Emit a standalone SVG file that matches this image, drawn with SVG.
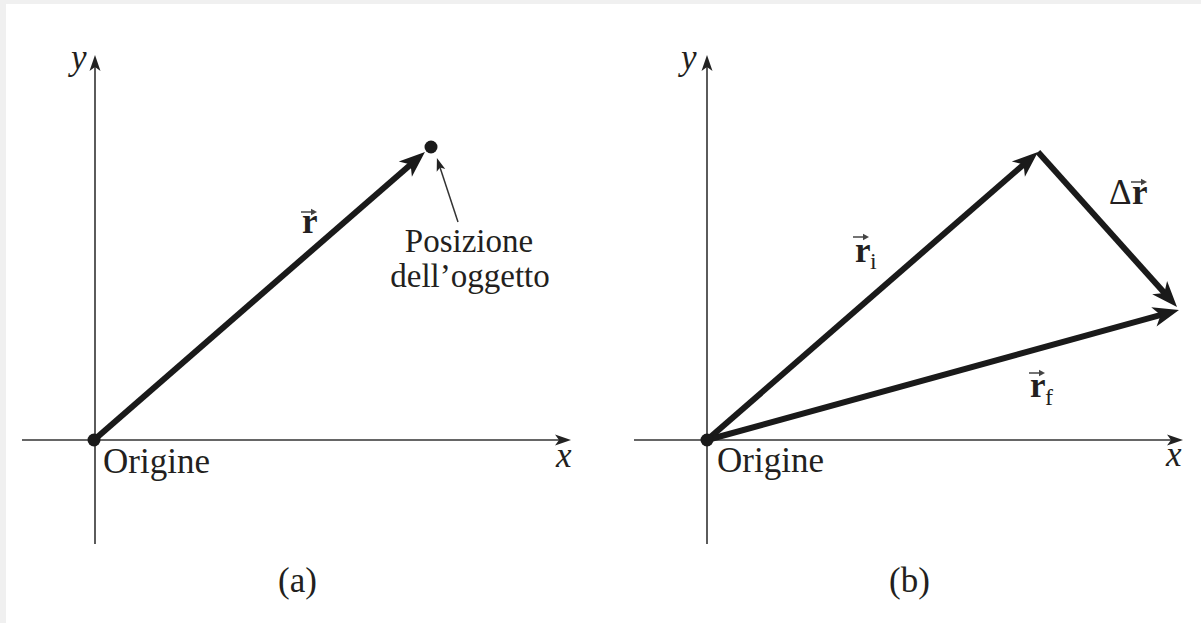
<svg xmlns="http://www.w3.org/2000/svg" xmlns:xlink="http://www.w3.org/1999/xlink" width="1201" height="623" viewBox="0 0 1201 623">
<style>
.t{font-family:"Liberation Serif","Times New Roman",serif;font-size:35px;fill:#231f20}
.lbl{font-size:33px}
.it{font-style:italic}
.b{font-weight:bold}
.sub{font-size:24px}
.axis{stroke:#333;stroke-width:1.6;fill:none}
.vec{stroke:#1a1a1a;stroke-width:6;fill:none;stroke-linecap:butt}
.ptr{stroke:#333;stroke-width:1.5;fill:none}
</style>
<defs>
<marker id="ah" markerUnits="userSpaceOnUse" markerWidth="30" markerHeight="24" viewBox="-27 -12 30 24" refX="-12" refY="0" orient="auto">
<path d="M0,0 L-26,-10 L-19,0 L-26,10 Z" fill="#1a1a1a"/>
</marker>
<marker id="sa" markerUnits="userSpaceOnUse" markerWidth="20" markerHeight="14" viewBox="-18 -7 20 14" refX="-8" refY="0" orient="auto">
<path d="M0,0 L-16,-5.5 L-12,0 L-16,5.5 Z" fill="#222"/>
</marker>
<marker id="pa" markerUnits="userSpaceOnUse" markerWidth="16" markerHeight="12" viewBox="-15 -6 16 12" refX="-6" refY="0" orient="auto">
<path d="M0,0 L-13,-4.5 L-10,0 L-13,4.5 Z" fill="#222"/>
</marker>
<g id="va">
<line x1="0" y1="0" x2="12" y2="0" stroke="#444" stroke-width="1.5"/>
<path d="M16,0 L10,-3.2 L10,3.2 Z" fill="#444"/>
</g>
</defs>
<rect x="0" y="0" width="1201" height="623" fill="#f0f0f0"/>
<rect x="6" y="4" width="1195" height="619" fill="#ffffff"/>

<g id="connectors">
<line class="axis" x1="22" y1="440" x2="563" y2="440" marker-end="url(#sa)"/>
<line class="axis" x1="95" y1="544" x2="95" y2="63" marker-end="url(#sa)"/>
<line class="axis" x1="634" y1="440" x2="1175" y2="440" marker-end="url(#sa)"/>
<line class="axis" x1="707" y1="544" x2="707" y2="63" marker-end="url(#sa)"/>
<line class="vec" x1="94" y1="440" x2="415.9" y2="159.9" marker-end="url(#ah)"/>
<line class="ptr" x1="458" y1="222" x2="438.8" y2="163.7" marker-end="url(#pa)"/>
<line class="vec" x1="707" y1="440" x2="1028.9" y2="159.9" marker-end="url(#ah)"/>
<line class="vec" x1="1038" y1="152" x2="1169" y2="298.1" marker-end="url(#ah)"/>
<line class="vec" x1="707" y1="440" x2="1167.4" y2="313.2" marker-end="url(#ah)"/>
</g>

<g id="origin-a">
<circle cx="94" cy="440" r="6.5" fill="#1a1a1a"/>
<text class="t" x="103" y="473">Origine</text>
</g>
<g id="point-a">
<circle cx="431" cy="147" r="6.5" fill="#1a1a1a"/>
<text class="t lbl" x="469" y="252" text-anchor="middle">Posizione</text>
<text class="t lbl" x="470" y="287" text-anchor="middle">dell’oggetto</text>
</g>
<g id="label-r-a">
<text class="t b" x="302" y="233">r</text>
<use xlink:href="#va" x="301" y="212"/>
</g>
<g id="axis-labels-a">
<text class="t it" x="71" y="69">y</text>
<text class="t it" x="556" y="467">x</text>
<text class="t" x="278" y="592">(a)</text>
</g>

<g id="origin-b">
<circle cx="707" cy="440" r="6.5" fill="#1a1a1a"/>
<text class="t" x="717" y="472">Origine</text>
</g>
<g id="label-ri">
<text class="t b" x="855" y="262">r</text>
<text class="t sub" x="870" y="269">i</text>
<use xlink:href="#va" x="853" y="237"/>
</g>
<g id="label-rf">
<text class="t b" x="1030" y="397">r</text>
<text class="t sub" x="1045" y="405">f</text>
<use xlink:href="#va" x="1029" y="373"/>
</g>
<g id="label-dr">
<text class="t" x="1109" y="204">Δ</text>
<text class="t b" x="1132" y="204">r</text>
<use xlink:href="#va" x="1131" y="182"/>
</g>
<g id="axis-labels-b">
<text class="t it" x="681" y="69">y</text>
<text class="t it" x="1166" y="466">x</text>
<text class="t" x="889" y="592">(b)</text>
</g>
</svg>
